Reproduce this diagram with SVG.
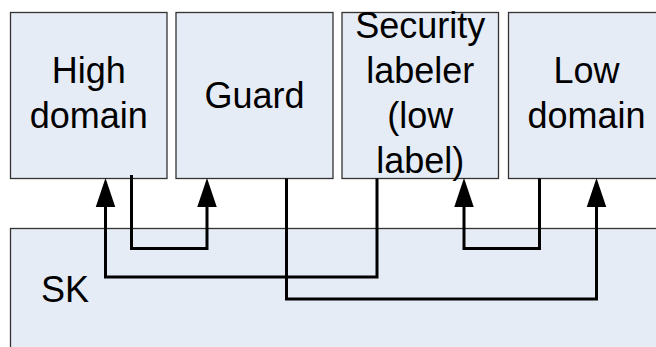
<svg xmlns="http://www.w3.org/2000/svg" width="656" height="347" viewBox="0 0 656 347">
  <defs>
    <style>
      .box { fill: #e6ecf6; stroke: #333333; stroke-width: 1.3; }
      .lbl { font-family: "Liberation Sans", Arial, sans-serif; font-size: 36px; fill: #000000; text-anchor: middle; }
      .wire { fill: none; stroke: #000000; stroke-width: 3; stroke-linejoin: miter; stroke-linecap: butt; }
    </style>
    <marker id="head" markerUnits="userSpaceOnUse" markerWidth="30" markerHeight="22" refX="0" refY="10" orient="auto" overflow="visible">
      <path d="M0,0.25 L29,10 L0,19.75 Z" fill="#000000"/>
    </marker>
  </defs>

  <rect width="656" height="347" fill="#ffffff"/>

  <!-- separation kernel -->
  <g id="sk">
    <rect class="box" x="10.5" y="228.5" width="700" height="200"/>
    <text class="lbl" x="41" y="301.5" style="text-anchor: start">SK</text>
  </g>

  <g id="high-domain">
    <rect class="box" x="10.5" y="12.5" width="156.5" height="166"/>
    <text class="lbl" x="88.75" y="83.3">High</text>
    <text class="lbl" x="88.75" y="128">domain</text>
  </g>

  <g id="guard">
    <rect class="box" x="176" y="12.5" width="157" height="166"/>
    <text class="lbl" x="254.5" y="107.5">Guard</text>
  </g>

  <g id="security-labeler">
    <rect class="box" x="342" y="12.5" width="156.5" height="166"/>
    <text class="lbl" x="420.25" y="38">Security</text>
    <text class="lbl" x="420.25" y="83">labeler</text>
    <text class="lbl" x="420.25" y="128">(low</text>
    <text class="lbl" x="420.25" y="173">label)</text>
  </g>

  <g id="low-domain">
    <rect class="box" x="508.5" y="12.5" width="156.5" height="166"/>
    <text class="lbl" x="586.5" y="83.3">Low</text>
    <text class="lbl" x="586.5" y="128">domain</text>
  </g>

  <g id="connectors">
    <path class="wire" d="M131.5,175 V248.5 H207 V207" marker-end="url(#head)"/>
    <path class="wire" d="M377,178.5 V277 H105.5 V207" marker-end="url(#head)"/>
    <path class="wire" d="M286.5,178.5 V299 H596.5 V207" marker-end="url(#head)"/>
    <path class="wire" d="M539.5,178.5 V248.5 H464 V207" marker-end="url(#head)"/>
  </g>
</svg>
